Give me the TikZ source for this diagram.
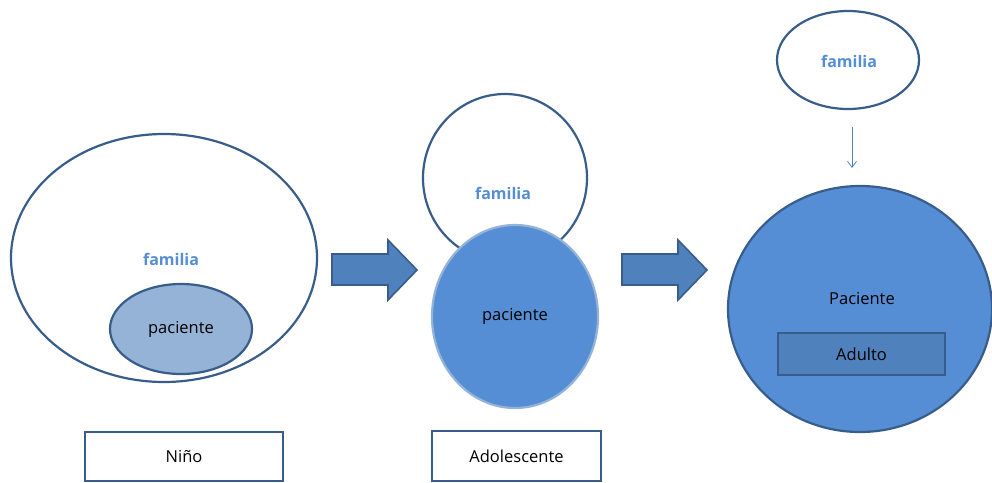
\documentclass[tikz,border=0pt]{standalone}
\usepackage{fontspec}
\setmainfont{Open Sans}
\usepackage{tikz}
\usetikzlibrary{shapes.geometric}
\usetikzlibrary{arrows.meta}

\definecolor{borde}{RGB}{56,93,138}
\definecolor{azul}{RGB}{85,142,213}
\definecolor{azulosc}{RGB}{79,129,189}
\definecolor{azulcl}{RGB}{149,179,215}

\tikzset{
  circulo/.style={ellipse,draw=borde,line width=2.2pt,inner sep=0pt},
  caja/.style={rectangle,draw=borde,line width=2.4pt,inner sep=0pt,font=\fontsize{16.5}{19}\selectfont},
  flecha/.style={draw=borde,line width=1.6pt,fill=azulosc,line join=miter},
  famtxt/.style={text=azul,font=\fontsize{16}{19}\selectfont\bfseries},
  pactxt/.style={font=\fontsize{16.5}{19}\selectfont}
}

\begin{document}
\begin{tikzpicture}[x=1pt,y=1pt,yscale=-1,xscale=1]
\useasboundingbox (0,0) rectangle (992,482);
% nino
\node[circulo,fill=white,minimum width=306,minimum height=248] (famA) at (164,258) {};
\node[famtxt] at (171,259) {familia};
\node[circulo,fill=azulcl,minimum width=142,minimum height=90,pactxt] (pacA) at (181,329) {paciente};
\node[caja,fill=white,minimum width=198,minimum height=49] (nino) at (184,456.5) {Niño};
% flecha 1
\draw[flecha] (332,254) -- (388,254) -- (388,240) -- (417,270) -- (388,300) -- (388,285) -- (332,285) -- cycle;
% adolescente
\node[circulo,fill=white,minimum width=164,minimum height=168] (famB) at (505,178) {};
\node[famtxt] at (503,193) {familia};
\node[circulo,draw=azulcl,fill=azul,minimum width=166,minimum height=183,pactxt] (pacB) at (515,316.5) {paciente};
\node[caja,fill=white,minimum width=169,minimum height=50] (adol) at (516.5,456) {Adolescente};
% flecha 2
\draw[flecha] (622,254) -- (678,254) -- (678,240) -- (707,270) -- (678,300) -- (678,285) -- (622,285) -- cycle;
% adulto
\node[circulo,fill=white,minimum width=142,minimum height=98] (famC) at (848,60) {};
\node[famtxt] at (849,61) {familia};
\coordinate (desde) at (852,127);
\coordinate (hasta) at (852,168);
\draw[azulosc,line width=0.8pt,-{Straight Barb[length=6pt,width=9pt]}] (desde) -- (hasta);
\node[circulo,fill=azul,minimum width=264,minimum height=246] (pacC) at (860,309) {};
\node[pactxt] at (862,299) {Paciente};
\node[caja,fill=azulosc,minimum width=167,minimum height=42] (adulto) at (861.5,354) {Adulto};
\end{tikzpicture}
\end{document}
